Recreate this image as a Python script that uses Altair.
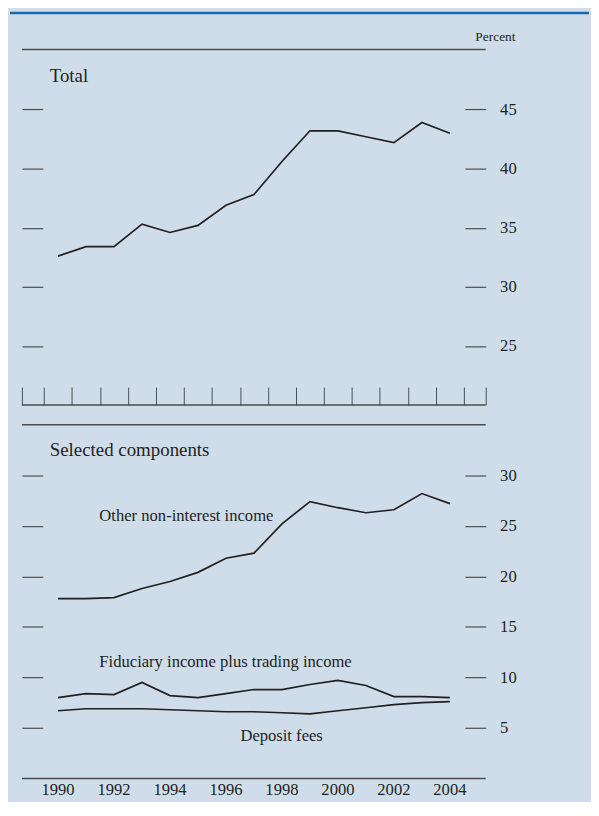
import altair as alt
import pandas as pd

# ---------------- data ----------------
years = list(range(1990, 2005))
total = [32.6, 33.4, 33.4, 35.3, 34.6, 35.2, 36.9, 37.8, 40.6, 43.2, 43.2, 42.7, 42.2, 43.9, 43.0]
other_nonint = [17.8, 17.8, 17.9, 18.8, 19.5, 20.4, 21.8, 22.3, 25.2, 27.4, 26.8, 26.3, 26.6, 28.2, 27.2]
fiduciary_trading = [8.0, 8.4, 8.3, 9.5, 8.2, 8.0, 8.4, 8.8, 8.8, 9.3, 9.7, 9.2, 8.1, 8.1, 8.0]
deposit_fees = [6.7, 6.9, 6.9, 6.9, 6.8, 6.7, 6.6, 6.6, 6.5, 6.4, 6.7, 7.0, 7.3, 7.5, 7.6]

top_ticks = [25, 30, 35, 40, 45]
bottom_ticks = [5, 10, 15, 20, 25, 30]
year_labels = [1990, 1992, 1994, 1996, 1998, 2000, 2002, 2004]
series_names = ["Other non-interest income", "Fiduciary income plus trading income", "Deposit fees"]

# ---------------- styles / layout ----------------
SERIF = "Liberation Serif"
BG = "#cfddea"
BAND = "#1b66b1"
RULE = "#4d4d4d"
INK = "#231f20"
W = 467
H1 = 357
H2 = 356
X0, X1 = 1989.21, 2005.78
LABEL_SIZE = 16.7
TITLE_SIZE = 19

xscale = alt.Scale(domain=[X0, X1], nice=False, zero=False)
xaxis = alt.Axis(values=[X0] + list(range(1990, 2006)) + [X1], labels=False, domain=False,
                 grid=False, ticks=True, tickSize=18, offset=-18, title=None,
                 tickColor=RULE, tickWidth=1)


def left_axis(vals):
    return alt.Axis(orient="left", values=vals, labels=False, domain=False, grid=False,
                    tickSize=21, offset=-21, title=None, tickColor=RULE, tickWidth=1.2)


def right_axis(vals):
    return alt.Axis(orient="right", values=vals, domain=False, grid=False, tickSize=21,
                    offset=-21, labelPadding=14, title=None, tickColor=RULE, tickWidth=1.2,
                    labelFont=SERIF, labelFontSize=LABEL_SIZE, labelColor=INK)


one = pd.DataFrame({"k": [0]})


def hrule(y, color=RULE, width=1.5):
    return alt.Chart(one).mark_rule(color=color, strokeWidth=width).encode(y=alt.value(y))


def label(text, x, y, size=LABEL_SIZE, align="left"):
    return alt.Chart(pd.DataFrame({"t": [text]})).mark_text(
        align=align, baseline="alphabetic", font=SERIF, fontSize=size, color=INK
    ).encode(x=alt.value(x), y=alt.value(y), text="t:N")


# ---------------- top panel ----------------
df_total = pd.DataFrame({"year": years, "value": total})
df_total["x"] = df_total["year"] + 0.5
yscale_top = alt.Scale(domain=[20, 50], nice=False, zero=False)

band = alt.Chart(one).mark_rule(color=BAND, strokeWidth=2.5).encode(
    x=alt.value(-12), x2=alt.value(W + 104), y=alt.value(-37.75))

total_line = alt.Chart(df_total).mark_line(color=INK, strokeWidth=1.7).encode(
    x=alt.X("x:Q", scale=xscale, axis=xaxis),
    y=alt.Y("value:Q", scale=yscale_top, axis=left_axis(top_ticks)))
total_right = alt.Chart(df_total).mark_point(opacity=0).encode(
    x=alt.value(0),
    y=alt.Y("value:Q", scale=yscale_top, axis=right_axis(top_ticks)))

top = alt.layer(
    band, hrule(-1), hrule(H1), total_line, total_right,
    label("Total", 28, 31.5, size=TITLE_SIZE),
    label("Percent", 497, -9.5, size=13.5, align="right"),
).resolve_axis(y="independent").properties(width=W, height=H1)

# ---------------- bottom panel ----------------
df_comp = pd.concat([
    pd.DataFrame({"year": years, "value": vals, "series": name})
    for name, vals in zip(series_names, [other_nonint, fiduciary_trading, deposit_fees])
])
df_comp["x"] = df_comp["year"] + 0.5
yscale_bot = alt.Scale(domain=[0, 35], nice=False, zero=False)

comp_lines = alt.Chart(df_comp).mark_line(color=INK, strokeWidth=1.7).encode(
    x=alt.X("x:Q", scale=xscale, axis=xaxis),
    y=alt.Y("value:Q", scale=yscale_bot, axis=left_axis(bottom_ticks)),
    detail="series:N")
comp_right = alt.Chart(df_comp).mark_point(opacity=0).encode(
    x=alt.value(0),
    y=alt.Y("value:Q", scale=yscale_bot, axis=right_axis(bottom_ticks)))

df_years = pd.DataFrame({"year": year_labels})
df_years["x"] = df_years["year"] + 0.5
df_years["t"] = df_years["year"].astype(str)
year_text = alt.Chart(df_years).mark_text(
    align="center", baseline="alphabetic", font=SERIF, fontSize=LABEL_SIZE, color=INK
).encode(x=alt.X("x:Q", scale=xscale, axis=None), y=alt.value(H2 + 16.5), text="t:N")

bottom = alt.layer(
    hrule(0), hrule(H2), comp_lines, comp_right, year_text,
    label("Selected components", 28, 31, size=TITLE_SIZE),
    label(series_names[0], 78, 96.3),
    label(series_names[1], 78, 243.8),
    label(series_names[2], 220, 318),
).resolve_axis(y="independent").properties(width=W, height=H2)

chart = alt.vconcat(top, bottom, spacing=20, bounds="flush").properties(
    background=BG, padding={"left": 0, "top": 1, "right": 0, "bottom": 0}
).configure_view(stroke=None)

chart.save("out.html", embed_options={"renderer": "svg", "actions": False})
